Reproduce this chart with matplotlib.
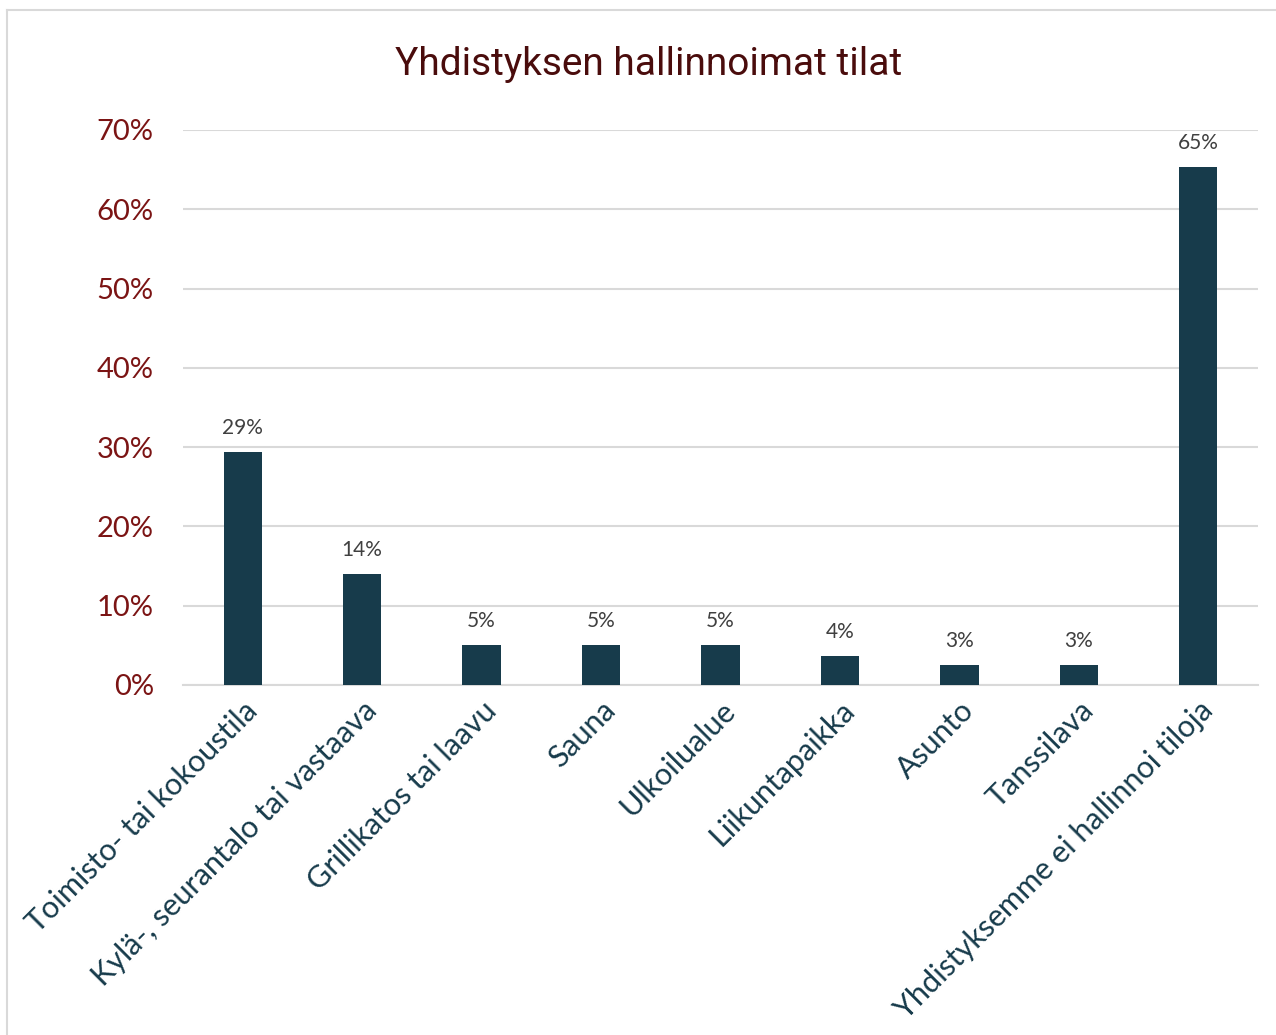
import matplotlib
matplotlib.use("Agg")
import matplotlib.pyplot as plt
import matplotlib.transforms as mtransforms
from matplotlib.lines import Line2D

categories = [
    "Toimisto- tai kokoustila",
    "Kylä-, seurantalo tai vastaava",
    "Grillikatos tai laavu",
    "Sauna",
    "Ulkoilualue",
    "Liikuntapaikka",
    "Asunto",
    "Tanssilava",
    "Yhdistyksemme ei hallinnoi tiloja",
]
values = [29.4, 14.0, 5.0, 5.0, 5.0, 3.7, 2.5, 2.5, 65.3]
value_labels = ["29%", "14%", "5%", "5%", "5%", "4%", "3%", "3%", "65%"]
yticks = [0, 10, 20, 30, 40, 50, 60, 70]

BAR = "#173B4B"
RED = "#7B1414"
TEAL = "#173B4B"
GRID = "#D9D9D9"

plt.rcParams["font.family"] = ["Lato", "DejaVu Sans"]

fig = plt.figure(figsize=(12.76, 10.35), dpi=100)
ax = fig.add_axes([0.1434, 0.3382, 0.8425, 0.5362])

x = range(len(categories))
ax.bar(x, values, width=0.32, color=BAR, zorder=3)
for xi, v, lab in zip(x, values, value_labels):
    ax.annotate(lab, (xi, v), textcoords="offset points", xytext=(0, 10),
                ha="center", va="bottom", fontsize=15, color="#404040")

ax.set_xlim(-0.5, len(categories) - 0.5)
ax.set_ylim(0, 70)
ax.set_yticks(yticks)
ax.set_yticklabels([f"{t}%" for t in yticks], fontsize=21, color=RED)
ax.set_xticks(list(x))
ax.set_xticklabels(categories, rotation=45, ha="right", va="top",
                   rotation_mode="anchor", fontsize=22, color=TEAL)
shift = mtransforms.ScaledTranslation(-6 / 100, 0, fig.dpi_scale_trans)
for lbl in ax.get_xticklabels():
    lbl.set_transform(lbl.get_transform() + shift)
ax.tick_params(axis="both", length=0)
ax.tick_params(axis="y", pad=21)
ax.tick_params(axis="x", pad=8)
ax.grid(axis="y", color=GRID, linewidth=1.5, zorder=0)
for side in ["top", "right", "left"]:
    ax.spines[side].set_visible(False)
ax.spines["bottom"].set_color(GRID)
ax.spines["bottom"].set_linewidth(1.5)

fig.text(0.508, 0.938, "Yhdistyksen hallinnoimat tilat", ha="center", va="center",
         fontsize=28, color="#4A0C0C", family=["Roboto", "DejaVu Sans"])

# outer chart border (only top/left visible in the crop)
fig.add_artist(Line2D([0.0055, 0.0055], [0.0, 0.9903], transform=fig.transFigure,
                      color=GRID, linewidth=1.5))
fig.add_artist(Line2D([0.0055, 1.0], [0.9903, 0.9903], transform=fig.transFigure,
                      color=GRID, linewidth=1.5))

fig.savefig("out.png", dpi=100)
